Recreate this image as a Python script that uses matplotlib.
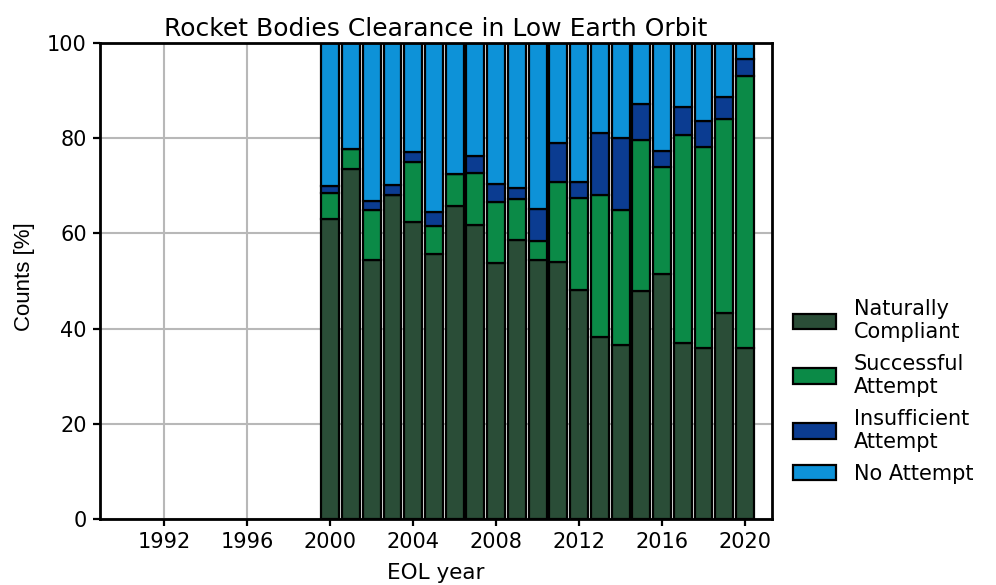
import matplotlib
matplotlib.use("Agg")
import matplotlib.pyplot as plt
import numpy as np

# End-of-life years and the share of each clearance outcome (percent)
years = list(range(2000, 2021))
naturally_compliant = [63.0, 73.5, 54.4, 68.0, 62.5, 55.7, 65.8, 61.8, 53.7, 58.6, 54.4,
                       53.9, 48.2, 38.2, 36.6, 47.9, 51.4, 36.9, 35.9, 43.2, 35.9]
successful_attempt = [5.4, 4.2, 10.5, 0.0, 12.4, 5.9, 6.6, 10.8, 13.0, 8.6, 4.1,
                      17.0, 19.3, 29.9, 28.3, 31.7, 22.6, 43.8, 42.3, 40.8, 57.2]
insufficient_attempt = [1.6, 0.0, 1.9, 2.2, 2.1, 3.0, 0.0, 3.7, 3.7, 2.4, 6.6,
                        8.0, 3.4, 12.9, 15.2, 7.6, 3.4, 5.8, 5.5, 4.7, 3.5]
no_attempt = [30.0, 22.3, 33.2, 29.8, 23.0, 35.4, 27.6, 23.7, 29.6, 30.4, 34.9,
              21.1, 29.1, 19.0, 19.9, 12.8, 22.6, 13.5, 16.3, 11.3, 3.4]

series_labels = ["Naturally\nCompliant", "Successful\nAttempt",
                 "Insufficient\nAttempt", "No Attempt"]
series_colors = ["#2a4d37", "#0b8a47", "#0b3c91", "#0d92d8"]
xtick_years = [1992, 1996, 2000, 2004, 2008, 2012, 2016, 2020]
yticks = [0, 20, 40, 60, 80, 100]

plt.rcParams["font.family"] = "DejaVu Sans"
plt.rcParams["font.size"] = 15

fig = plt.figure(figsize=(9.96, 5.85), dpi=100)
ax = fig.add_axes([0.1004, 0.1128, 0.6747, 0.8137])

ax.set_axisbelow(True)
ax.grid(True, color="#b8b8b8", linewidth=1.5)

stack = [naturally_compliant, successful_attempt, insufficient_attempt, no_attempt]
bottom = np.zeros(len(years))
handles = []
for vals, lab, col in zip(stack, series_labels, series_colors):
    vals = np.asarray(vals)
    b = ax.bar(years, vals, bottom=bottom, width=0.86, color=col,
               edgecolor="black", linewidth=1.6, label=lab)
    handles.append(b)
    bottom = bottom + vals

ax.set_xlim(1988.9, 2021.3)
ax.set_ylim(0, 100)
ax.set_xticks(xtick_years)
ax.set_yticks(yticks)
ax.tick_params(axis="both", labelsize=15, width=1.6, length=5, pad=4.5)
for s in ax.spines.values():
    s.set_linewidth(2)

ax.set_title("Rocket Bodies Clearance in Low Earth Orbit", fontsize=18, pad=5)
ax.set_xlabel("EOL year", fontsize=15.5, labelpad=8)
ax.set_ylabel("Counts [%]", fontsize=16, family="Liberation Sans")
ax.yaxis.set_label_coords(-0.096, 0.51)

leg = fig.legend(handles=handles, labels=series_labels, loc="lower left",
                 bbox_to_anchor=(0.777, 0.141), frameon=False, fontsize=15,
                 handlelength=2.1, handleheight=0.8, labelspacing=0.56,
                 handletextpad=0.85)

fig.savefig("out.png", dpi=100)
